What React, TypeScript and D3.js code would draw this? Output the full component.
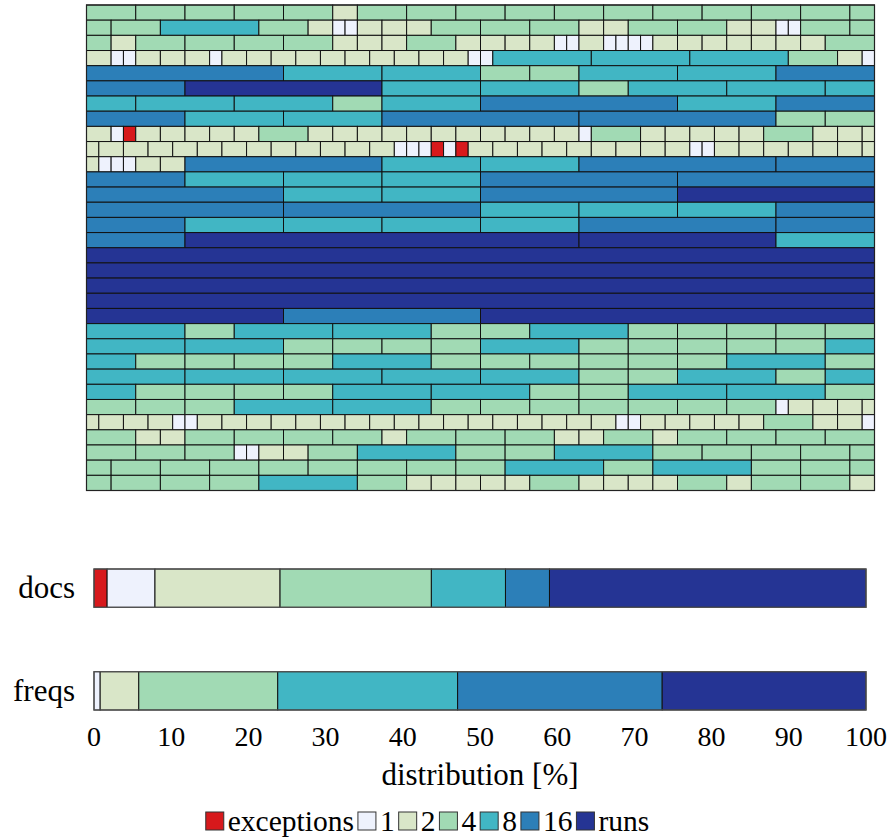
import { useRef, useEffect } from 'react';
import * as d3 from 'd3';

// categories (legend order) and colours
const categories = ['exceptions', '1', '2', '4', '8', '16', 'runs'];
const colors = ['#d7191c', '#eef2fd', '#d9e6c8', '#a1dab4', '#41b6c4', '#2c7fb8', '#253494'];

// top grid: one line per block of 64 values.
// token = category, width equals category unless given as "cat/width"; e = exception (width 1), r = runs
const blocks = [
  '4 4 4 4 4 2 4 4 4 4 4 4 4 4 4 4 4/2',
  '4/2 4 8 4 2 1 1 2 2 2 4 4 4 2 2 4 4 2 2 1 1 4 4/2',
  '4/2 2 4 4 4 4 2 2 2 4 2 2 2 2 1 1 2 1 1 1 1 2 2 2 2 2 2 2 4',
  '2 1 1 2 2 2 1 2 2 2 2 2 2 2 2 2 2 1 1 8 8 8 4 2 1',
  '16 8 8 4 4 8 8 16/8',
  '16/8 r/16 8 8 4 8 8 8/4',
  '8/4 8 8 4 8 16 8 16/8',
  '16/8 8 8 16 16 4 4',
  '2 1 e 2 2 2 2 2 4 2 2 2 2 2 2 2 2 2 2 2 1 4 2 2 2 2 2 4 2 2 2/1',
  '2/1 2 2 2 2 2 2 2 2 2 2 2 2 1 1 1 e 1 e 2 2 2 2 2 2 2 2 2 1 1 2 2 2 2 2 2 2/1',
  '2/1 1 1 1 2 2 16 8 8 16 16/8',
  '16/8 8 8 8 16 16',
  '16 8 8 16 r/16',
  '16 16 8 8 8 16/8',
  '16/8 8 8 8 8 16 16/8',
  '16/8 r/32 r/16 8',
  'r/64',
  'r/64',
  'r/64',
  'r/64',
  'r/16 16 r/32',
  '8 4 8 8 4 4 8 4 4 4 4 4',
  '8 8 4 4 4 4 8 4 4 4 4 4 8/4',
  '8/4 4 4 4 4 8 4 4 4 4 4 4 8 4',
  '8 8 8 8 8 4 4 8 4 8/4',
  '8/4 4 4 4 4 8 8 4 4 8 8 4',
  '4 4 4 8 8 4 4 4 4 4 4 4 1 2 2 2 2/1',
  '2/1 2 2 2 1 1 2 2 2 2 2 2 2 2 2 2 2 2 2 2 2 2 2 1 1 2 2 2 2 2 4 2 2 1',
  '4 2 2 4 4 4 4 2 4 4 4 2 2 4 2 4 4 4 4',
  '4 4 4 1 1 2 2 4 8 4 4 8 4 4 4 4 4/2',
  '4/2 4 4 4 4 4 4 4 4 8 4 8 4 4 4/2',
  '4/2 4 4 4 8 4 2 2 2 2 2 4 2 2 2 2 4 2 4 4 2/2',
];

// bottom stacked bars, share in % per category
const barLabels = ['docs', 'freqs'];
const docsShares = [1.7, 6.2, 16.2, 19.6, 9.6, 5.7, 41.0];
const freqsShares = [0, 0.8, 5.0, 18.0, 23.3, 26.5, 26.4];
const xTicks = [0, 10, 20, 30, 40, 50, 60, 70, 80, 90, 100];

const FONT = '"Liberation Serif", "DejaVu Serif", serif';

function catIndex(c: string) {
  if (c === 'e') return 0;
  if (c === 'r') return 6;
  return categories.indexOf(c);
}

export default function App() {
  const svgRef = useRef<SVGSVGElement>(null);

  useEffect(() => {
    const svg = d3.select(svgRef.current).html('');

    // ---- grid of blocks
    const gx = d3.scaleLinear().domain([0, 64]).range([86.5, 874.5]);
    const gy = d3.scaleBand().domain(blocks.map((_, i) => String(i))).range([5, 490.5]);

    const cells: { row: number; start: number; w: number; cat: number }[] = [];
    blocks.forEach((b, row) => {
      let pos = 0;
      b.split(' ').forEach(tok => {
        const [c, w] = tok.split('/');
        const cat = catIndex(c);
        const width = w ? +w : c === 'e' ? 1 : +c;
        cells.push({ row, start: pos, w: width, cat });
        pos += width;
      });
    });

    const grid = svg.append('g');
    grid.selectAll('rect')
      .data(cells)
      .enter()
      .append('rect')
      .attr('x', d => gx(d.start))
      .attr('y', d => gy(String(d.row))!)
      .attr('width', d => gx(d.start + d.w) - gx(d.start))
      .attr('height', gy.bandwidth())
      .attr('fill', d => colors[d.cat])
      .attr('stroke', '#111')
      .attr('stroke-width', 1);

    grid.append('rect')
      .attr('x', 86.5).attr('y', 5)
      .attr('width', 788).attr('height', 485.5)
      .attr('fill', 'none')
      .attr('stroke', '#222')
      .attr('stroke-width', 1.2);

    // ---- stacked bars
    const x = d3.scaleLinear().domain([0, 100]).range([94, 866]);
    const y = d3.scaleBand().domain(barLabels).range([569, 710]).paddingInner(0.627).paddingOuter(0);

    [docsShares, freqsShares].forEach((shares, i) => {
      const label = barLabels[i];
      let acc = 0;
      const segs = shares.map((v, k) => {
        const s = { start: acc, end: acc + v, k };
        acc += v;
        return s;
      }).filter(s => s.end > s.start);

      const g = svg.append('g');
      g.selectAll('rect')
        .data(segs)
        .enter()
        .append('rect')
        .attr('x', d => x(d.start))
        .attr('y', y(label)!)
        .attr('width', d => x(d.end) - x(d.start))
        .attr('height', y.bandwidth())
        .attr('fill', d => colors[d.k])
        .attr('stroke', '#111')
        .attr('stroke-width', 1);

      g.append('rect')
        .attr('x', x(0)).attr('y', y(label)!)
        .attr('width', x(100) - x(0)).attr('height', y.bandwidth())
        .attr('fill', 'none')
        .attr('stroke', '#555')
        .attr('stroke-width', 1.2);

      svg.append('text')
        .attr('x', 75)
        .attr('y', y(label)! + y.bandwidth() / 2)
        .attr('dy', '0.33em')
        .attr('text-anchor', 'end')
        .attr('font-family', FONT)
        .attr('font-size', 31)
        .text(label);
    });

    // ---- x axis (labels only)
    svg.append('g')
      .selectAll('text')
      .data(xTicks)
      .enter()
      .append('text')
      .attr('x', d => x(d))
      .attr('y', 746)
      .attr('text-anchor', 'middle')
      .attr('font-family', FONT)
      .attr('font-size', 28)
      .text(d => d);

    svg.append('text')
      .attr('x', (x(0) + x(100)) / 2)
      .attr('y', 785)
      .attr('text-anchor', 'middle')
      .attr('font-family', FONT)
      .attr('font-size', 31)
      .text('distribution [%]');

    // ---- legend
    const legend = svg.append('g');
    let lx = 0;
    categories.forEach((c, k) => {
      legend.append('rect')
        .attr('x', lx).attr('y', 812)
        .attr('width', 18).attr('height', 18)
        .attr('fill', colors[k])
        .attr('stroke', '#333')
        .attr('stroke-width', 1);
      const t = legend.append('text')
        .attr('x', lx + 22)
        .attr('y', 831)
        .attr('font-family', FONT)
        .attr('font-size', 29.5)
        .text(c);
      const len = (t.node() as SVGTextElement).getComputedTextLength();
      lx += 22 + len + 4;
    });
    const total = lx - 4;
    legend.attr('transform', `translate(${427.5 - total / 2},0)`);
  }, []);

  return (
    <svg
      ref={svgRef}
      width={891}
      height={839}
      style={{ position: 'absolute', left: 0, top: 0, background: '#fff' }}
    />
  );
}
